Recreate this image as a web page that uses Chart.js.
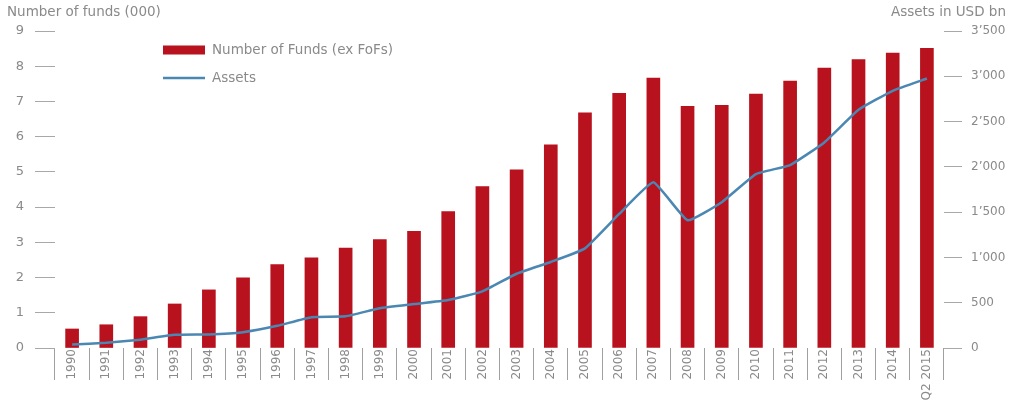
<!DOCTYPE html>
<html>
<head>
<meta charset="utf-8">
<script src="https://cdn.jsdelivr.net/npm/chart.js@4/dist/chart.umd.min.js"></script>
<style>
  html, body { margin: 0; padding: 0; background: #ffffff; }
  #wrap { width: 1014px; height: 403px; position: relative; }
</style>
</head>
<body>
<div id="wrap"><canvas id="chart" width="1014" height="403"></canvas></div>
<script>
// Hedge fund industry: number of funds (thousands, excluding funds of funds) and assets (USD bn)
const categories = ['1990','1991','1992','1993','1994','1995','1996','1997','1998','1999',
  '2000','2001','2002','2003','2004','2005','2006','2007','2008','2009',
  '2010','2011','2012','2013','2014','Q2 2015'];

const fundCounts = [0.54, 0.66, 0.89, 1.25, 1.65, 1.99, 2.37, 2.56, 2.84, 3.08,
  3.31, 3.87, 4.58, 5.06, 5.77, 6.68, 7.23, 7.66, 6.86, 6.89,
  7.21, 7.58, 7.95, 8.19, 8.37, 8.51];

const assetsUsdBn = [39, 58, 92, 145, 150, 175, 245, 340, 350, 440,
  485, 530, 625, 820, 950, 1100, 1480, 1830, 1410, 1610,
  1920, 2020, 2270, 2630, 2840, 2975];

const fundTicks = [0, 1, 2, 3, 4, 5, 6, 7, 8, 9];
const assetTicks = [0, 500, 1000, 1500, 2000, 2500, 3000, 3500];

const seriesNames = ['Number of Funds (ex FoFs)', 'Assets'];
const axisTitles = ['Number of funds (000)', 'Assets in USD bn'];

const RED = '#B8121E';
const BLUE = '#4A87B2';
const GREY = '#8a8a8a';
const FONT = 'DejaVu Sans';

function fmtThousands(v) {
  if (v < 1000) return String(v);
  return Math.floor(v / 1000) + '\u2019' + String(v % 1000).padStart(3, '0');
}

// Axis titles above the plot and a legend inside the plot area
const decorations = {
  id: 'decorations',
  afterDraw(chart) {
    const ctx = chart.ctx;
    ctx.save();
    ctx.font = '13.5px "' + FONT + '"';
    ctx.fillStyle = GREY;
    ctx.textBaseline = 'middle';
    ctx.textAlign = 'left';
    ctx.fillText(axisTitles[0], 7, 12);
    ctx.textAlign = 'right';
    ctx.fillText(axisTitles[1], 1006, 12);

    const x0 = 163, w = 42;
    const rows = [50, 78];
    chart.data.datasets.forEach((ds, i) => {
      const y = rows[i];
      if (ds.type === 'line') {
        ctx.strokeStyle = ds.borderColor;
        ctx.lineWidth = 2.5;
        ctx.beginPath();
        ctx.moveTo(x0, y);
        ctx.lineTo(x0 + w, y);
        ctx.stroke();
      } else {
        ctx.fillStyle = ds.backgroundColor;
        ctx.fillRect(x0, y - 4.5, w, 9);
      }
      ctx.fillStyle = GREY;
      ctx.textAlign = 'left';
      ctx.fillText(ds.label, x0 + w + 7, y);
    });
    ctx.restore();
  }
};

new Chart(document.getElementById('chart'), {
  data: {
    labels: categories,
    datasets: [
      {
        type: 'bar',
        label: seriesNames[0],
        data: fundCounts,
        yAxisID: 'yFunds',
        backgroundColor: RED,
        barThickness: 13,
        order: 2
      },
      {
        type: 'line',
        label: seriesNames[1],
        data: assetsUsdBn,
        yAxisID: 'yAssets',
        borderColor: BLUE,
        backgroundColor: BLUE,
        borderWidth: 2.5,
        pointRadius: 0,
        tension: 0.12,
        order: 1
      }
    ]
  },
  options: {
    responsive: false,
    animation: false,
    layout: { padding: { top: 31, left: 0, right: 0, bottom: 0 } },
    plugins: {
      legend: { display: false },
      tooltip: { enabled: false }
    },
    scales: {
      x: {
        type: 'category',
        offset: true,
        border: { display: false },
        grid: {
          offset: true,
          drawOnChartArea: false,
          drawTicks: true,
          tickLength: 32,
          color: '#a0a0a0',
          lineWidth: 1
        },
        ticks: {
          minRotation: 90,
          maxRotation: 90,
          autoSkip: false,
          padding: -31,
          color: GREY,
          font: { family: FONT, size: 12 }
        },
        afterFit(scale) { scale.height = 55; }
      },
      yFunds: {
        position: 'left',
        min: 0,
        max: 9,
        border: { display: false },
        grid: {
          drawOnChartArea: false,
          tickLength: 20,
          color: '#a8a8a8'
        },
        afterBuildTicks(scale) { scale.ticks = fundTicks.map(v => ({ value: v })); },
        ticks: {
          padding: 11,
          color: GREY,
          font: { family: FONT, size: 13 }
        },
        afterFit(scale) { scale.width = 55; }
      },
      yAssets: {
        position: 'right',
        min: 0,
        max: 3500,
        border: { display: false },
        grid: {
          drawOnChartArea: false,
          tickLength: 18,
          color: '#a8a8a8'
        },
        afterBuildTicks(scale) { scale.ticks = assetTicks.map(v => ({ value: v })); },
        ticks: {
          padding: 9,
          color: GREY,
          font: { family: FONT, size: 12 },
          callback: (v) => fmtThousands(v)
        },
        afterFit(scale) { scale.width = 70; }
      }
    }
  },
  plugins: [decorations]
});
</script>
</body>
</html>
